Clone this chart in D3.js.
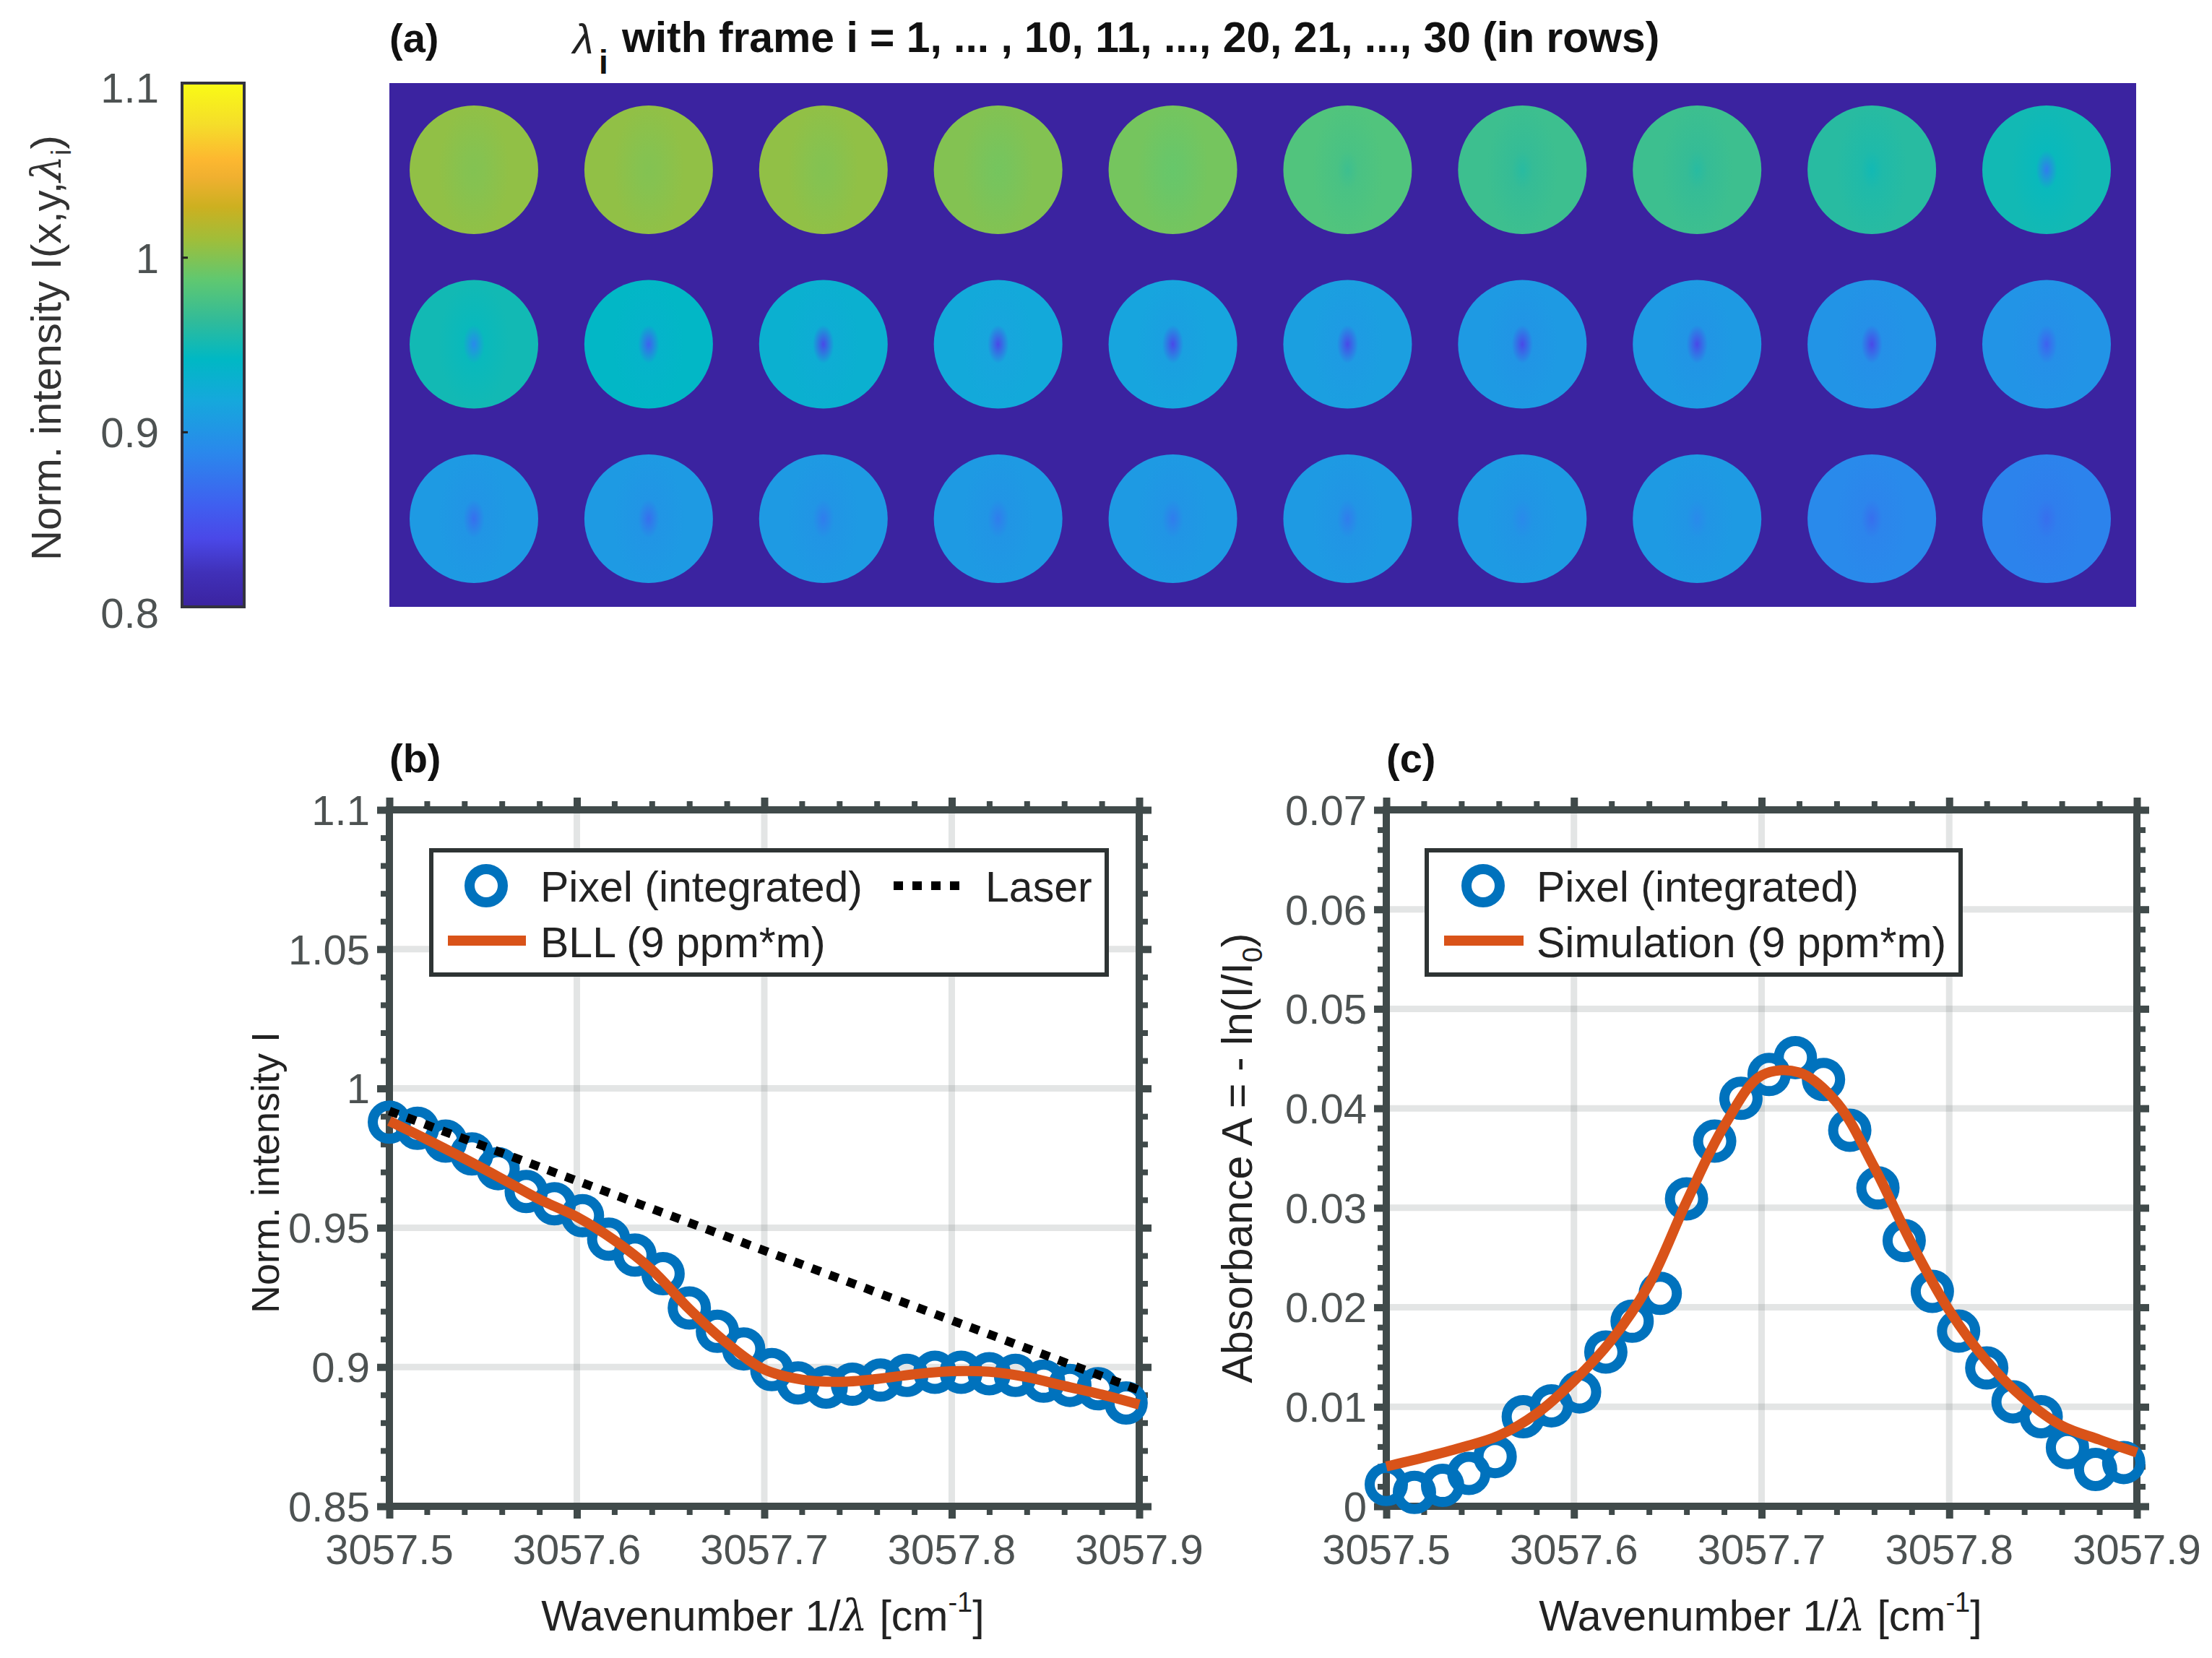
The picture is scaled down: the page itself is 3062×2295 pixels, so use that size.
<!DOCTYPE html>
<html><head><meta charset="utf-8">
<script src="https://cdn.jsdelivr.net/npm/d3@7/dist/d3.min.js"></script>
<style>html,body{margin:0;padding:0;background:#fff}svg{display:block}text{font-family:"Liberation Sans",Arial,sans-serif}</style>
</head><body><svg id="c" width="3062" height="2295"></svg>
<script>
// ---- values ----
const wavenumberTicks = [3057.5, 3057.6, 3057.7, 3057.8, 3057.9];
const intensityTicks = [0.85, 0.9, 0.95, 1, 1.05, 1.1];
const absorbanceTicks = [0, 0.01, 0.02, 0.03, 0.04, 0.05, 0.06, 0.07];
const colorbarTicks = [0.8, 0.9, 1, 1.1];

const pixelWavenumber = [3057.5,3057.515,3057.530,3057.544,3057.558,3057.573,3057.588,3057.603,3057.617,3057.631,3057.646,3057.660,3057.675,3057.689,3057.704,3057.718,3057.733,3057.747,3057.762,3057.776,3057.791,3057.805,3057.820,3057.834,3057.849,3057.863,3057.878,3057.893];
const pixelIntensity = [.9879,.9857,.9811,.9765,.9712,.9630,.9586,.9543,.9459,.9402,.9335,.9212,.9128,.9065,.8991,.8943,.8928,.8938,.8953,.8970,.8981,.8981,.8976,.8970,.8949,.8934,.8922,.8871];
const pixelAbsorbance = [.0022,.0014,.0021,.0033,.0050,.0090,.0101,.0115,.0155,.0186,.0214,.0309,.0367,.0410,.0434,.0451,.0429,.0378,.0320,.0267,.0216,.0176,.0139,.0105,.0090,.0059,.0037,.0044];

const curveWavenumber = [3057.50,3057.52,3057.54,3057.56,3057.58,3057.60,3057.62,3057.64,3057.66,3057.68,3057.70,3057.72,3057.74,3057.76,3057.78,3057.80,3057.82,3057.84,3057.86,3057.88,3057.90];
const bllIntensity = [.9883,.9817,.9748,.9676,.9602,.9539,.9455,.9349,.9208,.9086,.8991,.8955,.8947,.8957,.8974,.8985,.8983,.8964,.8932,.8901,.8865];
const simAbsorbance = [.0040,.0049,.0059,.0071,.0093,.0126,.0167,.0223,.0306,.0382,.0433,.0436,.0406,.0341,.0264,.0197,.0146,.0108,.0081,.0067,.0054];
const laserWavenumber = [3057.5, 3057.9];
const laserIntensity = [.9919, .8917];

// apparent mean and centre intensity of each of the 30 frames (read by eye; per-pixel speckle is not readable)
const frameMean = [1.005,1.005,1.005,1.0,.995,.98,.97,.97,.96,.95, .95,.94,.93,.92,.915,.91,.905,.905,.90,.90, .905,.905,.905,.905,.905,.905,.905,.905,.89,.885];
const frameCentre = [1.0,1.0,1.0,.995,.99,.97,.96,.96,.95,.88, .89,.86,.84,.84,.84,.84,.84,.84,.84,.86, .87,.87,.88,.88,.88,.88,.89,.89,.87,.87];

const colorStops = [[0,"#3b23a0"],[.065,"#4030b8"],[.13,"#4a48e8"],[.196,"#3f60f0"],[.295,"#2a88ec"],[.394,"#15a8dc"],[.473,"#00b8c4"],[.545,"#30bb9a"],[.625,"#60c870"],[.70,"#9fbe3a"],[.763,"#ccb020"],[.82,"#f0b030"],[.855,"#fdb830"],[.92,"#f5dd2a"],[1,"#f9fb15"]];

// ---- drawing ----
const svg = d3.select("#c");
const defs = svg.append("defs");
const AX = "#404a4a", TK = "#4d5252", BLUE = "#0072bd", RED = "#d95319";
const TICKFS = 58, LABFS = 59;

const color = d3.scaleLinear().domain(colorStops.map(d => 0.8 + d[0]*0.3)).range(colorStops.map(d => d[1])).clamp(true);

// colorbar
const cbY = d3.scaleLinear().domain([0.8,1.1]).range([840,115]);
const cbGrad = defs.append("linearGradient").attr("id","cb").attr("x1",0).attr("x2",0).attr("y1",1).attr("y2",0);
cbGrad.selectAll("stop").data(colorStops).join("stop").attr("offset",d=>d[0]).attr("stop-color",d=>d[1]);
svg.append("rect").attr("x",252).attr("y",cbY(1.1)).attr("width",86).attr("height",cbY(0.8)-cbY(1.1)).attr("fill","url(#cb)").attr("stroke","#33333f").attr("stroke-width",4);
svg.selectAll(".cbt").data(colorbarTicks.slice(1,3)).join("line").attr("x1",252).attr("x2",260).attr("y1",cbY).attr("y2",cbY).attr("stroke","#222").attr("stroke-width",3);
svg.selectAll(".cbl").data(colorbarTicks).join("text").attr("x",220).attr("y",d=>d===1.1?121:d===0.8?848:cbY(d)).attr("dy","0.36em").attr("text-anchor","end").attr("font-size",TICKFS).attr("fill",TK).text(d=>d);
const cbl = svg.append("text").attr("transform","translate(84,776) rotate(-90)").attr("font-size",58).attr("fill","#333");
cbl.append("tspan").text("Norm. intensity I(x,y,");
cbl.append("tspan").attr("font-family","'DejaVu Serif',serif").attr("font-style","italic").text("λ");
cbl.append("tspan").attr("font-size",38).attr("dy",14).text("i");
cbl.append("tspan").attr("dy",-14).text(")");

// panel (a)
svg.append("rect").attr("x",539).attr("y",115).attr("width",2418).attr("height",725).attr("fill",color(0.8));
const colX = d3.scaleLinear().domain([0,9]).range([656,2833]);
const rowY = d3.scaleLinear().domain([0,2]).range([235,718]);
const frames = frameMean.map((m,i)=>({m,c:frameCentre[i],i,col:i%10,row:Math.floor(i/10)}));
const grads = defs.selectAll(".fg").data(frames).join("radialGradient").attr("id",d=>"f"+d.i).attr("gradientTransform","translate(.5,.5) scale(.55,1) translate(-.5,-.5)");
grads.append("stop").attr("offset",0).attr("stop-color",d=>color(d.c));
grads.append("stop").attr("offset",.3).attr("stop-color",d=>color(d.m-0.004));
grads.append("stop").attr("offset",1).attr("stop-color",d=>color(d.m));
svg.selectAll(".frame").data(frames).join("circle").attr("class","frame").attr("cx",d=>colX(d.col)).attr("cy",d=>rowY(d.row)).attr("r",89).attr("fill",d=>`url(#f${d.i})`);

// titles
const bold = (x,y,t)=>svg.append("text").attr("x",x).attr("y",y).attr("font-weight","bold").attr("font-size",56).attr("fill","#111").text(t);
bold(539,72,"(a)"); bold(539,1069,"(b)"); bold(1919,1069,"(c)");
svg.append("text").attr("x",793).attr("y",74).attr("font-family","'DejaVu Serif',serif").attr("font-style","italic").attr("font-size",58).attr("fill","#222").text("λ");
svg.append("text").attr("x",829).attr("y",102).attr("font-weight","bold").attr("font-size",46).attr("fill","#111").text("i");
svg.append("text").attr("x",861).attr("y",72).attr("font-weight","bold").attr("font-size",58.8).attr("fill","#111").text("with frame i = 1, ... , 10, 11, ..., 20, 21, ..., 30 (in rows)");

function panel(o){
  const x = d3.scaleLinear().domain([3057.5,3057.9]).range([o.l,o.r]);
  const y = d3.scaleLinear().domain(o.yd).range([2085,1121]);
  const g = svg.append("g");
  // grid
  g.selectAll(".gx").data(wavenumberTicks.slice(1,-1)).join("line").attr("x1",x).attr("x2",x).attr("y1",1121).attr("y2",2085).attr("stroke","#7f8a8a").attr("stroke-opacity",.22).attr("stroke-width",9);
  g.selectAll(".gy").data(o.yt.slice(1,-1)).join("line").attr("y1",y).attr("y2",y).attr("x1",o.l).attr("x2",o.r).attr("stroke","#7f8a8a").attr("stroke-opacity",.22).attr("stroke-width",9);
  // minor + major ticks on all four sides, drawn by d3 axes
  const minorX = d3.range(0,21).map(k=>3057.5+k*0.02), minorY = d3.range(o.yd[0],o.yd[1]+o.minor/2,o.minor);
  const ax = (gen,tx,ty)=>{
    const a = g.append("g").attr("transform",`translate(${tx},${ty})`).call(gen);
    a.selectAll("path").remove(); a.selectAll("text").remove();
    return a;
  };
  const tick = (sel,w)=>sel.selectAll("line").attr("stroke",AX).attr("stroke-width",w);
  tick(ax(d3.axisBottom(x).tickValues(minorX).tickSize(12),0,2085),8);
  tick(ax(d3.axisTop(x).tickValues(minorX).tickSize(12),0,1121),8);
  tick(ax(d3.axisLeft(y).tickValues(minorY).tickSize(12),o.l,0),8);
  tick(ax(d3.axisRight(y).tickValues(minorY).tickSize(12),o.r,0),8);
  tick(ax(d3.axisBottom(x).tickValues(wavenumberTicks).tickSize(17),0,2085),10);
  tick(ax(d3.axisTop(x).tickValues(wavenumberTicks).tickSize(17),0,1121),10);
  tick(ax(d3.axisLeft(y).tickValues(o.yt).tickSize(17),o.l,0),10);
  tick(ax(d3.axisRight(y).tickValues(o.yt).tickSize(17),o.r,0),10);
  // frame
  g.append("rect").attr("x",o.l).attr("y",1121).attr("width",o.r-o.l).attr("height",964).attr("fill","none").attr("stroke",AX).attr("stroke-width",10);
  // tick labels
  g.selectAll(".xl").data(wavenumberTicks).join("text").attr("x",x).attr("y",2165).attr("text-anchor","middle").attr("font-size",TICKFS).attr("fill",TK).text(d=>d3.format(".1f")(d));
  g.selectAll(".yl").data(o.yt).join("text").attr("x",o.l-27).attr("y",d=>y(d)).attr("dy","0.36em").attr("text-anchor","end").attr("font-size",TICKFS).attr("fill",TK).text(d=>d);
  // x label
  const xl = g.append("text").attr("x",o.xlab).attr("y",2257).attr("text-anchor","middle").attr("font-size",LABFS).attr("fill","#222");
  xl.append("tspan").text("Wavenumber 1/");
  xl.append("tspan").attr("font-family","'DejaVu Serif',serif").attr("font-style","italic").text("λ");
  xl.append("tspan").text(" [cm");
  xl.append("tspan").attr("font-size",38).attr("dy",-26).text("-1");
  xl.append("tspan").attr("dy",26).text("]");
  // y label
  o.ylabel(g);
  // data
  const pts = pixelWavenumber.map((w,i)=>[w,o.pix[i]]);
  g.selectAll(".pt").data(pts).join("circle").attr("cx",d=>x(d[0])).attr("cy",d=>y(d[1])).attr("r",23).attr("fill","none").attr("stroke",BLUE).attr("stroke-width",14);
  const line = d3.line().x(d=>x(d[0])).y(d=>y(d[1]));
  if(o.laser) g.append("path").attr("d",line(laserWavenumber.map((w,i)=>[w,laserIntensity[i]]))).attr("fill","none").attr("stroke","#000").attr("stroke-width",12).attr("stroke-dasharray","13 13");
  g.append("path").attr("d",line.curve(d3.curveCatmullRom)(curveWavenumber.map((w,i)=>[w,o.cur[i]]))).attr("fill","none").attr("stroke",RED).attr("stroke-width",14);
  // legend
  const L = o.leg;
  g.append("rect").attr("x",L.x0).attr("y",1177).attr("width",L.x1-L.x0).attr("height",172).attr("fill","#fff").attr("stroke","#2e3434").attr("stroke-width",6);
  g.append("circle").attr("cx",L.mk).attr("cy",1226).attr("r",23).attr("fill","none").attr("stroke",BLUE).attr("stroke-width",14);
  g.append("line").attr("x1",L.l0).attr("x2",L.l1).attr("y1",1302).attr("y2",1302).attr("stroke",RED).attr("stroke-width",14);
  const lt = (tx,ty,t)=>g.append("text").attr("x",tx).attr("y",ty).attr("font-size",LABFS).attr("fill","#222").text(t);
  lt(L.t,1248,"Pixel (integrated)"); lt(L.t,1325,L.name);
  if(o.laser){
    g.append("line").attr("x1",1237).attr("x2",1335).attr("y1",1226).attr("y2",1226).attr("stroke","#000").attr("stroke-width",12).attr("stroke-dasharray","13 13");
    lt(1364,1248,"Laser");
  }
}

panel({l:539,r:1577,yd:[0.85,1.1],yt:intensityTicks,minor:0.01,pix:pixelIntensity,cur:bllIntensity,laser:true,xlab:1056,
  leg:{x0:597,x1:1532,mk:673,l0:620,l1:728,t:748,name:"BLL (9 ppm*m)"},
  ylabel:g=>g.append("text").attr("transform","translate(386,1623) rotate(-90)").attr("text-anchor","middle").attr("font-size",54).attr("fill","#222").text("Norm. intensity I")});

panel({l:1919,r:2958,yd:[0,0.07],yt:absorbanceTicks,minor:0.002,pix:pixelAbsorbance,cur:simAbsorbance,laser:false,xlab:2437,
  leg:{x0:1975,x1:2714,mk:2053,l0:1999,l1:2109,t:2127,name:"Simulation (9 ppm*m)"},
  ylabel:g=>{
    const t = g.append("text").attr("transform","translate(1733,1603) rotate(-90)").attr("text-anchor","middle").attr("font-size",59).attr("fill","#222");
    t.append("tspan").text("Absorbance A = - ln(I/I");
    t.append("tspan").attr("font-size",38).attr("dy",14).text("0");
    t.append("tspan").attr("dy",-14).text(")");
  }});
</script></body></html>
